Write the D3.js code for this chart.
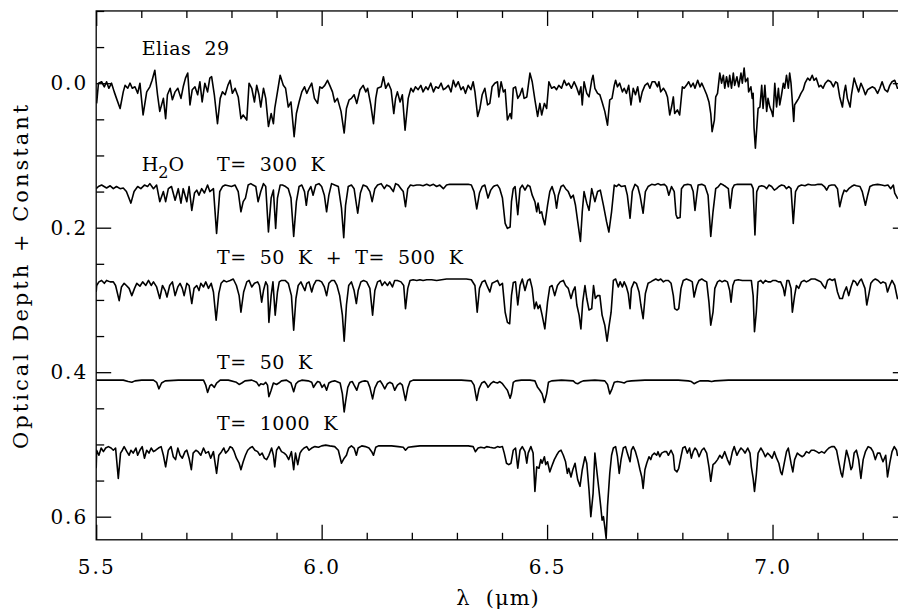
<!DOCTYPE html>
<html>
<head>
<meta charset="utf-8">
<script src="https://cdn.jsdelivr.net/npm/d3@7"></script>
<style>
  body { margin: 0; background: #fff; }
  text { font-family: "DejaVu Serif", serif; fill: #000; white-space: pre; }
</style>
</head>
<body>
<svg id="chart" width="898" height="614"></svg>
<script>
// axis values
var xMajor = [5.5, 6.0, 6.5, 7.0];
var yMajor = [0.0, 0.2, 0.4, 0.6];

// spectra: [wavelength (micron), optical depth + constant]
var elias29 = [[5.501,0.028],[5.505,0.000],[5.512,-0.002],[5.518,0.005],[5.523,-0.002],[5.528,0.007],[5.534,0.000],[5.540,0.012],[5.545,0.021],[5.553,0.035],[5.560,0.012],[5.564,0.003],[5.570,0.007],[5.575,0.000],[5.580,0.007],[5.586,0.005],[5.592,0.014],[5.597,0.000],[5.604,0.044],[5.612,0.012],[5.619,0.005],[5.624,-0.004],[5.630,-0.018],[5.636,0.016],[5.641,0.039],[5.649,0.021],[5.654,0.049],[5.658,0.016],[5.664,0.007],[5.669,0.023],[5.675,0.012],[5.681,0.007],[5.688,0.021],[5.693,0.005],[5.698,-0.007],[5.703,-0.014],[5.708,0.030],[5.713,0.009],[5.719,0.005],[5.725,0.016],[5.730,-0.002],[5.735,0.026],[5.741,0.000],[5.747,0.012],[5.752,-0.007],[5.756,-0.009],[5.762,0.016],[5.769,0.056],[5.775,0.021],[5.780,0.012],[5.786,0.016],[5.792,0.003],[5.797,-0.004],[5.802,0.014],[5.808,0.007],[5.815,0.019],[5.821,0.049],[5.826,0.044],[5.834,0.051],[5.839,0.000],[5.845,0.007],[5.851,0.026],[5.856,0.003],[5.861,0.016],[5.865,0.033],[5.871,0.007],[5.876,0.021],[5.882,0.060],[5.888,0.042],[5.893,0.056],[5.896,0.035],[5.902,0.012],[5.908,-0.011],[5.915,0.003],[5.920,0.007],[5.926,0.033],[5.932,0.026],[5.939,0.074],[5.944,0.042],[5.950,0.026],[5.956,0.012],[5.962,0.005],[5.967,0.014],[5.972,0.007],[5.978,0.000],[5.984,0.021],[5.991,0.028],[5.996,0.005],[6.001,0.007],[6.007,0.003],[6.013,-0.004],[6.018,0.003],[6.024,0.012],[6.029,0.026],[6.035,0.021],[6.043,0.039],[6.050,0.069],[6.055,0.035],[6.061,0.023],[6.066,0.021],[6.072,0.016],[6.078,0.028],[6.085,0.009],[6.092,0.003],[6.098,0.012],[6.102,0.007],[6.109,0.030],[6.115,0.056],[6.120,0.021],[6.124,0.007],[6.132,0.005],[6.137,-0.009],[6.142,0.007],[6.148,0.000],[6.154,0.009],[6.160,0.042],[6.164,0.021],[6.168,0.012],[6.174,0.026],[6.179,0.016],[6.185,0.065],[6.192,0.021],[6.198,0.007],[6.203,0.012],[6.208,0.005],[6.214,0.009],[6.220,0.003],[6.225,0.012],[6.231,0.005],[6.236,0.009],[6.242,0.000],[6.248,0.012],[6.253,0.005],[6.259,0.007],[6.265,0.000],[6.270,0.009],[6.275,0.007],[6.281,0.003],[6.287,0.012],[6.292,-0.004],[6.297,0.005],[6.303,-0.002],[6.309,0.009],[6.314,0.005],[6.319,0.014],[6.325,0.003],[6.331,0.009],[6.336,-0.002],[6.340,0.012],[6.346,0.046],[6.351,0.035],[6.356,0.016],[6.362,0.007],[6.368,0.030],[6.373,0.028],[6.378,0.005],
  [6.384,0.000],[6.390,-0.002],[6.393,0.019],[6.398,-0.002],[6.403,0.012],[6.407,0.009],[6.412,0.051],[6.418,0.042],[6.421,0.049],[6.425,0.007],[6.430,0.005],[6.435,0.021],[6.440,0.016],[6.445,0.007],[6.449,0.021],[6.455,0.019],[6.462,-0.014],[6.467,-0.002],[6.473,0.023],[6.479,0.046],[6.484,0.028],[6.488,0.044],[6.494,0.028],[6.499,0.035],[6.504,-0.002],[6.510,0.007],[6.516,0.005],[6.521,0.009],[6.526,0.003],[6.532,0.007],[6.538,-0.004],[6.543,0.003],[6.548,0.000],[6.554,0.007],[6.560,-0.002],[6.565,0.005],[6.571,0.016],[6.575,0.005],[6.578,0.030],[6.582,-0.002],[6.588,0.014],[6.593,0.019],[6.599,-0.004],[6.602,-0.011],[6.606,0.007],[6.612,0.014],[6.617,0.016],[6.622,0.026],[6.628,0.039],[6.634,0.058],[6.639,0.023],[6.644,0.021],[6.649,0.003],[6.652,-0.004],[6.656,0.005],[6.661,0.000],[6.667,0.012],[6.671,0.007],[6.676,0.014],[6.681,0.003],[6.686,0.030],[6.691,0.007],[6.696,0.016],[6.701,0.005],[6.706,0.026],[6.711,0.012],[6.717,0.003],[6.723,0.000],[6.728,0.007],[6.733,-0.002],[6.739,-0.002],[6.745,0.005],[6.748,-0.002],[6.752,0.012],[6.758,0.007],[6.763,0.012],[6.767,0.019],[6.772,0.044],[6.776,0.033],[6.780,0.019],[6.783,0.042],[6.789,0.037],[6.794,0.044],[6.800,0.005],[6.804,0.007],[6.809,0.003],[6.814,-0.002],[6.819,0.005],[6.824,0.000],[6.828,0.007],[6.834,-0.004],[6.839,0.005],[6.843,0.000],[6.848,0.007],[6.854,0.016],[6.859,0.026],[6.863,0.042],[6.866,0.067],[6.871,0.051],[6.874,0.019],[6.878,0.014],[6.883,-0.014],[6.887,0.000],[6.891,-0.011],[6.894,0.007],[6.898,-0.009],[6.902,0.005],[6.905,-0.011],[6.909,0.007],[6.913,-0.014],[6.916,0.003],[6.921,-0.009],[6.925,0.005],[6.930,-0.014],[6.933,0.000],[6.937,-0.021],[6.940,-0.002],[6.945,-0.007],[6.947,0.012],[6.952,0.005],[6.955,0.021],[6.957,0.014],[6.959,0.062],[6.962,0.090],[6.966,0.053],[6.968,0.035],[6.972,0.033],[6.976,0.003],[6.979,0.035],[6.983,0.003],[6.987,0.039],[6.990,0.021],[6.994,0.033],[6.998,0.039],[7.001,0.046],[7.005,0.000],[7.009,0.033],[7.013,0.007],[7.016,0.030],[7.020,0.016],[7.024,0.000],[7.027,0.007],[7.031,-0.011],[7.035,0.007],[7.038,-0.014],[7.041,0.000],[7.044,0.026],[7.047,0.053],[7.049,0.030],[7.053,0.026],[7.058,0.021],[7.063,0.014],[7.068,0.009],[7.072,0.000],[7.078,-0.007],[7.083,-0.004],[7.088,-0.011],[7.092,-0.004],[7.097,-0.007],[7.103,0.005],[7.107,0.003],[7.112,0.007],[7.117,0.000],[7.123,-0.004],[7.129,-0.002],[7.135,0.005],[7.140,-0.002],[7.144,0.000],[7.149,0.019],[7.155,0.033],[7.159,0.012],[7.162,0.003],[7.166,0.021],[7.172,0.033],[7.175,0.016],[7.181,-0.007],[7.186,0.003],[7.191,0.012],[7.196,0.000],[7.201,0.007],[7.206,0.016],[7.211,0.009],[7.216,0.007],[7.221,0.005],[7.227,0.007],[7.233,0.014],[7.238,0.007],[7.243,-0.002],[7.249,0.009],[7.255,0.012],[7.260,0.003],[7.265,-0.002],[7.271,-0.004],[7.275,0.003],[7.277,0.007],[7.300,0.005]];

var h2o300K = [[5.500,0.146],[5.505,0.143],[5.512,0.141],[5.523,0.145],[5.531,0.142],[5.538,0.146],[5.545,0.143],[5.553,0.146],[5.560,0.145],[5.567,0.150],[5.577,0.166],[5.584,0.150],[5.592,0.143],[5.599,0.146],[5.607,0.141],[5.614,0.143],[5.619,0.139],[5.627,0.146],[5.634,0.141],[5.641,0.164],[5.649,0.150],[5.654,0.164],[5.660,0.146],[5.667,0.143],[5.675,0.162],[5.682,0.146],[5.688,0.166],[5.693,0.146],[5.701,0.164],[5.706,0.143],[5.712,0.176],[5.718,0.152],[5.723,0.148],[5.728,0.155],[5.734,0.146],[5.740,0.152],[5.747,0.141],[5.752,0.150],[5.760,0.146],[5.767,0.208],[5.774,0.150],[5.780,0.143],[5.786,0.141],[5.793,0.142],[5.800,0.143],[5.808,0.141],[5.815,0.150],[5.821,0.178],[5.826,0.164],[5.831,0.159],[5.837,0.141],[5.843,0.139],[5.848,0.141],[5.854,0.143],[5.859,0.164],[5.865,0.150],[5.871,0.139],[5.876,0.143],[5.882,0.206],[5.888,0.159],[5.893,0.148],[5.898,0.201],[5.902,0.159],[5.908,0.141],[5.913,0.141],[5.920,0.143],[5.926,0.146],[5.932,0.159],[5.938,0.212],[5.944,0.164],[5.950,0.143],[5.956,0.141],[5.962,0.150],[5.966,0.169],[5.970,0.150],[5.976,0.143],[5.981,0.155],[5.987,0.141],[5.994,0.139],[6.000,0.143],[6.006,0.155],[6.011,0.178],[6.016,0.155],[6.022,0.139],[6.029,0.141],[6.037,0.143],[6.044,0.173],[6.049,0.214],[6.053,0.169],[6.059,0.143],[6.066,0.141],[6.072,0.146],[6.080,0.180],[6.086,0.152],[6.092,0.141],[6.100,0.143],[6.107,0.150],[6.112,0.164],[6.118,0.146],[6.124,0.141],[6.132,0.139],[6.139,0.146],[6.144,0.141],[6.151,0.143],[6.159,0.150],[6.164,0.139],[6.170,0.141],[6.176,0.146],[6.181,0.150],[6.186,0.171],[6.191,0.146],[6.197,0.141],[6.203,0.142],[6.211,0.141],[6.218,0.141],[6.225,0.142],[6.233,0.140],[6.240,0.142],[6.248,0.140],[6.255,0.143],[6.262,0.141],[6.270,0.146],[6.277,0.141],[6.284,0.140],[6.292,0.140],[6.303,0.140],[6.314,0.140],[6.325,0.140],[6.332,0.141],[6.338,0.150],[6.344,0.174],[6.350,0.152],[6.356,0.143],[6.362,0.141],[6.369,0.159],[6.375,0.148],[6.381,0.143],
  [6.384,0.142],[6.390,0.141],[6.395,0.146],[6.401,0.159],[6.407,0.194],[6.412,0.201],[6.418,0.199],[6.421,0.164],[6.425,0.146],[6.429,0.143],[6.435,0.182],[6.440,0.146],[6.445,0.141],[6.451,0.148],[6.457,0.141],[6.462,0.143],[6.467,0.155],[6.473,0.164],[6.477,0.178],[6.480,0.166],[6.484,0.180],[6.488,0.178],[6.491,0.187],[6.495,0.196],[6.501,0.169],[6.506,0.150],[6.511,0.143],[6.517,0.155],[6.521,0.173],[6.525,0.155],[6.531,0.143],[6.536,0.141],[6.541,0.146],[6.547,0.150],[6.553,0.159],[6.558,0.155],[6.563,0.169],[6.568,0.192],[6.574,0.219],[6.578,0.178],[6.582,0.150],[6.588,0.166],[6.593,0.176],[6.599,0.146],[6.606,0.164],[6.612,0.150],[6.618,0.148],[6.625,0.169],[6.632,0.192],[6.637,0.206],[6.643,0.178],[6.649,0.141],[6.654,0.143],[6.659,0.140],[6.665,0.143],[6.673,0.142],[6.678,0.155],[6.684,0.187],[6.689,0.150],[6.695,0.140],[6.701,0.143],[6.706,0.155],[6.713,0.180],[6.718,0.150],[6.724,0.143],[6.732,0.140],[6.739,0.141],[6.746,0.139],[6.752,0.141],[6.760,0.140],[6.765,0.143],[6.770,0.155],[6.776,0.143],[6.782,0.150],[6.786,0.182],[6.789,0.187],[6.795,0.186],[6.798,0.146],[6.804,0.141],[6.812,0.140],[6.819,0.141],[6.824,0.150],[6.828,0.176],[6.832,0.155],[6.835,0.141],[6.843,0.140],[6.850,0.142],[6.857,0.155],[6.863,0.212],[6.868,0.178],[6.874,0.146],[6.880,0.143],[6.885,0.139],[6.891,0.141],[6.896,0.143],[6.902,0.146],[6.906,0.173],[6.911,0.146],[6.915,0.141],[6.922,0.140],[6.931,0.140],[6.942,0.140],[6.953,0.140],[6.957,0.146],[6.961,0.210],[6.965,0.150],[6.970,0.143],[6.976,0.142],[6.982,0.143],[6.987,0.146],[6.992,0.141],[6.998,0.143],[7.004,0.148],[7.009,0.146],[7.014,0.143],[7.020,0.141],[7.026,0.142],[7.031,0.146],[7.036,0.143],[7.041,0.146],[7.046,0.194],[7.051,0.150],[7.057,0.143],[7.064,0.141],[7.072,0.142],[7.079,0.140],[7.086,0.141],[7.094,0.141],[7.101,0.140],[7.109,0.140],[7.115,0.143],[7.120,0.148],[7.125,0.142],[7.131,0.141],[7.138,0.141],[7.144,0.146],[7.149,0.171],[7.155,0.155],[7.159,0.148],[7.164,0.150],[7.169,0.146],[7.175,0.143],[7.181,0.141],[7.186,0.142],[7.194,0.143],[7.199,0.150],[7.206,0.169],[7.211,0.155],[7.216,0.143],[7.223,0.141],[7.233,0.140],[7.242,0.141],[7.249,0.142],[7.256,0.141],[7.262,0.146],[7.268,0.141],[7.271,0.152],[7.277,0.159],[7.300,0.165]];

var h2o50K500K = [[5.500,0.289],[5.501,0.280],[5.506,0.275],[5.512,0.273],[5.518,0.277],[5.523,0.273],[5.531,0.275],[5.538,0.275],[5.543,0.280],[5.551,0.301],[5.556,0.282],[5.562,0.277],[5.567,0.280],[5.573,0.284],[5.579,0.294],[5.585,0.284],[5.590,0.277],[5.597,0.281],[5.603,0.275],[5.610,0.280],[5.616,0.273],[5.622,0.280],[5.627,0.275],[5.634,0.282],[5.641,0.298],[5.647,0.280],[5.653,0.287],[5.657,0.296],[5.663,0.280],[5.669,0.275],[5.675,0.294],[5.681,0.282],[5.686,0.277],[5.691,0.284],[5.695,0.294],[5.701,0.277],[5.706,0.280],[5.712,0.305],[5.717,0.284],[5.723,0.280],[5.728,0.287],[5.732,0.277],[5.738,0.282],[5.743,0.275],[5.749,0.284],[5.755,0.277],[5.760,0.289],[5.766,0.328],[5.772,0.291],[5.777,0.277],[5.783,0.273],[5.789,0.275],[5.797,0.273],[5.804,0.271],[5.811,0.280],[5.817,0.294],[5.821,0.317],[5.827,0.289],[5.834,0.275],[5.839,0.273],[5.845,0.282],[5.851,0.277],[5.858,0.275],[5.862,0.280],[5.867,0.303],[5.871,0.287],[5.876,0.275],[5.880,0.280],[5.883,0.331],[5.888,0.294],[5.892,0.275],[5.897,0.321],[5.902,0.289],[5.906,0.275],[5.911,0.273],[5.919,0.273],[5.926,0.277],[5.933,0.294],[5.938,0.342],[5.943,0.298],[5.948,0.280],[5.954,0.275],[5.959,0.282],[5.963,0.287],[5.967,0.277],[5.972,0.275],[5.978,0.289],[5.982,0.280],[5.988,0.273],[5.994,0.273],[6.000,0.275],[6.006,0.282],[6.011,0.294],[6.016,0.277],[6.022,0.273],[6.028,0.273],[6.034,0.280],[6.040,0.294],[6.046,0.321],[6.050,0.357],[6.055,0.307],[6.060,0.280],[6.066,0.275],[6.072,0.287],[6.077,0.305],[6.081,0.287],[6.087,0.275],[6.093,0.273],[6.100,0.275],[6.107,0.284],[6.113,0.321],[6.118,0.287],[6.124,0.275],[6.130,0.273],[6.134,0.280],[6.140,0.275],[6.146,0.280],[6.151,0.275],[6.157,0.282],[6.162,0.273],[6.168,0.273],[6.176,0.275],[6.182,0.280],[6.186,0.312],[6.191,0.284],[6.196,0.273],[6.203,0.272],[6.211,0.273],[6.218,0.272],[6.225,0.273],[6.233,0.272],[6.244,0.272],[6.255,0.273],[6.266,0.272],[6.277,0.271],[6.288,0.271],[6.299,0.271],[6.310,0.271],[6.321,0.271],[6.332,0.272],[6.340,0.280],[6.345,0.317],[6.350,0.284],[6.356,0.275],[6.362,0.273],[6.368,0.282],[6.373,0.289],[6.378,0.277],
  [6.384,0.275],[6.390,0.273],[6.395,0.280],[6.401,0.277],[6.407,0.317],[6.412,0.331],[6.417,0.333],[6.421,0.294],[6.425,0.276],[6.430,0.275],[6.435,0.307],[6.440,0.280],[6.445,0.271],[6.451,0.287],[6.457,0.273],[6.462,0.271],[6.467,0.284],[6.472,0.312],[6.476,0.303],[6.480,0.312],[6.484,0.307],[6.489,0.321],[6.495,0.340],[6.501,0.303],[6.506,0.282],[6.511,0.280],[6.517,0.294],[6.523,0.280],[6.529,0.275],[6.536,0.273],[6.541,0.280],[6.547,0.284],[6.553,0.298],[6.558,0.287],[6.562,0.282],[6.566,0.307],[6.571,0.321],[6.575,0.340],[6.579,0.303],[6.584,0.280],[6.588,0.298],[6.593,0.314],[6.599,0.312],[6.603,0.280],[6.607,0.298],[6.612,0.294],[6.617,0.294],[6.622,0.321],[6.628,0.335],[6.633,0.357],[6.637,0.338],[6.642,0.317],[6.647,0.273],[6.652,0.271],[6.658,0.282],[6.662,0.275],[6.667,0.282],[6.671,0.275],[6.676,0.282],[6.680,0.291],[6.684,0.312],[6.687,0.284],[6.693,0.275],[6.698,0.277],[6.704,0.289],[6.708,0.307],[6.713,0.326],[6.718,0.291],[6.724,0.277],[6.730,0.275],[6.735,0.273],[6.741,0.271],[6.747,0.273],[6.752,0.271],[6.758,0.275],[6.763,0.273],[6.769,0.273],[6.775,0.277],[6.780,0.294],[6.783,0.312],[6.788,0.314],[6.792,0.312],[6.797,0.284],[6.802,0.273],[6.809,0.271],[6.817,0.273],[6.822,0.275],[6.826,0.296],[6.832,0.280],[6.837,0.273],[6.843,0.271],[6.848,0.273],[6.854,0.275],[6.859,0.303],[6.863,0.335],[6.868,0.317],[6.872,0.284],[6.878,0.275],[6.883,0.273],[6.888,0.275],[6.894,0.273],[6.900,0.275],[6.905,0.287],[6.908,0.303],[6.912,0.280],[6.916,0.273],[6.924,0.272],[6.933,0.273],[6.940,0.273],[6.948,0.273],[6.953,0.273],[6.957,0.294],[6.960,0.344],[6.964,0.317],[6.968,0.275],[6.974,0.273],[6.979,0.277],[6.984,0.273],[6.990,0.275],[6.996,0.275],[7.001,0.273],[7.007,0.273],[7.013,0.275],[7.018,0.275],[7.024,0.284],[7.027,0.294],[7.032,0.273],[7.036,0.273],[7.041,0.284],[7.044,0.317],[7.049,0.294],[7.053,0.280],[7.058,0.284],[7.064,0.275],[7.070,0.273],[7.075,0.275],[7.081,0.273],[7.086,0.271],[7.094,0.271],[7.101,0.273],[7.107,0.275],[7.112,0.280],[7.117,0.284],[7.122,0.273],[7.127,0.271],[7.132,0.273],[7.138,0.271],[7.144,0.289],[7.149,0.298],[7.155,0.298],[7.159,0.289],[7.164,0.282],[7.169,0.294],[7.174,0.282],[7.179,0.273],[7.184,0.275],[7.188,0.280],[7.194,0.273],[7.197,0.271],[7.205,0.284],[7.209,0.307],[7.214,0.291],[7.218,0.277],[7.223,0.273],[7.228,0.271],[7.234,0.273],[7.240,0.277],[7.245,0.275],[7.251,0.277],[7.255,0.289],[7.260,0.280],[7.265,0.273],[7.271,0.280],[7.277,0.298],[7.300,0.300]];

var h2o50K = [[5.500,0.411],[5.530,0.411],[5.560,0.411],[5.571,0.413],[5.579,0.414],[5.586,0.412],[5.601,0.411],[5.627,0.411],[5.634,0.414],[5.639,0.423],[5.645,0.415],[5.653,0.412],[5.682,0.411],[5.712,0.411],[5.738,0.411],[5.743,0.418],[5.747,0.428],[5.752,0.419],[5.756,0.417],[5.762,0.421],[5.767,0.415],[5.775,0.411],[5.793,0.411],[5.811,0.414],[5.817,0.417],[5.823,0.415],[5.830,0.412],[5.845,0.411],[5.856,0.414],[5.861,0.419],[5.865,0.416],[5.871,0.417],[5.876,0.414],[5.880,0.418],[5.883,0.434],[5.888,0.425],[5.893,0.415],[5.900,0.417],[5.905,0.415],[5.911,0.412],[5.922,0.411],[5.932,0.415],[5.938,0.427],[5.943,0.416],[5.948,0.413],[5.956,0.411],[5.970,0.412],[5.978,0.414],[5.982,0.421],[5.987,0.416],[5.991,0.413],[5.996,0.414],[6.001,0.421],[6.006,0.417],[6.011,0.425],[6.016,0.415],[6.022,0.413],[6.029,0.412],[6.041,0.415],[6.046,0.430],[6.050,0.455],[6.053,0.441],[6.058,0.421],[6.063,0.414],[6.068,0.413],[6.072,0.418],[6.078,0.425],[6.083,0.415],[6.089,0.413],[6.096,0.412],[6.102,0.413],[6.107,0.421],[6.113,0.437],[6.118,0.422],[6.124,0.414],[6.130,0.412],[6.134,0.416],[6.140,0.423],[6.146,0.416],[6.151,0.414],[6.157,0.416],[6.162,0.425],[6.168,0.418],[6.174,0.415],[6.179,0.418],[6.183,0.430],[6.186,0.439],[6.191,0.422],[6.196,0.413],[6.203,0.411],[6.236,0.411],[6.273,0.411],[6.310,0.411],[6.332,0.412],[6.338,0.418],[6.344,0.439],[6.349,0.423],[6.355,0.415],[6.361,0.413],[6.366,0.417],[6.369,0.421],[6.375,0.416],[6.381,0.413],
  [6.384,0.414],[6.390,0.415],[6.395,0.413],[6.401,0.416],[6.407,0.421],[6.412,0.425],[6.418,0.436],[6.421,0.430],[6.425,0.414],[6.430,0.412],[6.443,0.411],[6.462,0.411],[6.473,0.412],[6.479,0.421],[6.484,0.425],[6.489,0.430],[6.494,0.442],[6.499,0.430],[6.503,0.414],[6.510,0.412],[6.532,0.411],[6.558,0.412],[6.563,0.415],[6.568,0.416],[6.573,0.414],[6.580,0.412],[6.606,0.411],[6.628,0.412],[6.634,0.417],[6.639,0.430],[6.644,0.423],[6.649,0.414],[6.656,0.413],[6.665,0.414],[6.671,0.415],[6.676,0.413],[6.687,0.412],[6.717,0.411],[6.754,0.411],[6.791,0.411],[6.813,0.412],[6.820,0.413],[6.826,0.416],[6.832,0.414],[6.839,0.412],[6.857,0.412],[6.865,0.413],[6.872,0.412],[6.902,0.411],[6.976,0.411],[7.049,0.411],[7.123,0.411],[7.197,0.411],[7.300,0.411]];

var h2o1000K = [[5.500,0.533],[5.501,0.508],[5.506,0.515],[5.511,0.505],[5.516,0.510],[5.521,0.505],[5.527,0.503],[5.533,0.505],[5.538,0.508],[5.543,0.505],[5.549,0.547],[5.554,0.512],[5.558,0.508],[5.562,0.503],[5.568,0.510],[5.573,0.515],[5.577,0.508],[5.582,0.512],[5.588,0.505],[5.592,0.515],[5.597,0.508],[5.602,0.503],[5.607,0.519],[5.612,0.508],[5.617,0.512],[5.622,0.505],[5.627,0.510],[5.632,0.508],[5.638,0.505],[5.644,0.503],[5.649,0.515],[5.654,0.531],[5.660,0.508],[5.666,0.503],[5.671,0.517],[5.676,0.521],[5.681,0.505],[5.686,0.515],[5.691,0.519],[5.697,0.510],[5.701,0.508],[5.706,0.519],[5.711,0.535],[5.715,0.512],[5.721,0.508],[5.726,0.510],[5.732,0.515],[5.738,0.505],[5.743,0.512],[5.749,0.510],[5.754,0.519],[5.760,0.510],[5.767,0.540],[5.772,0.515],[5.778,0.510],[5.783,0.505],[5.787,0.512],[5.793,0.508],[5.797,0.503],[5.802,0.505],[5.806,0.510],[5.811,0.519],[5.817,0.526],[5.821,0.535],[5.826,0.524],[5.831,0.515],[5.836,0.508],[5.841,0.505],[5.846,0.503],[5.852,0.508],[5.858,0.510],[5.863,0.515],[5.868,0.512],[5.873,0.519],[5.878,0.521],[5.883,0.515],[5.889,0.505],[5.893,0.515],[5.896,0.531],[5.900,0.508],[5.905,0.503],[5.911,0.510],[5.917,0.512],[5.922,0.515],[5.927,0.521],[5.933,0.510],[5.938,0.535],[5.942,0.512],[5.947,0.528],[5.952,0.512],[5.956,0.508],[5.961,0.505],[5.967,0.503],[5.972,0.508],[5.978,0.505],[5.985,0.503],[5.993,0.504],[6.000,0.502],[6.009,0.501],[6.018,0.502],[6.029,0.503],[6.037,0.508],[6.044,0.526],[6.050,0.519],[6.055,0.515],[6.060,0.505],[6.066,0.502],[6.072,0.505],[6.077,0.515],[6.081,0.505],[6.089,0.502],[6.097,0.503],[6.105,0.505],[6.111,0.510],[6.115,0.515],[6.120,0.504],[6.126,0.502],[6.140,0.502],[6.155,0.502],[6.170,0.503],[6.181,0.504],[6.186,0.508],[6.192,0.504],[6.203,0.503],[6.218,0.502],[6.236,0.502],[6.259,0.502],[6.281,0.502],[6.303,0.502],[6.325,0.502],[6.336,0.503],[6.341,0.510],[6.347,0.505],[6.353,0.504],[6.361,0.505],[6.366,0.503],[6.373,0.504],[6.381,0.505],
  [6.384,0.505],[6.390,0.503],[6.395,0.504],[6.401,0.503],[6.405,0.512],[6.410,0.526],[6.415,0.528],[6.420,0.526],[6.425,0.508],[6.430,0.505],[6.435,0.533],[6.440,0.508],[6.445,0.503],[6.451,0.510],[6.455,0.526],[6.458,0.512],[6.464,0.503],[6.469,0.512],[6.473,0.565],[6.477,0.531],[6.482,0.533],[6.486,0.521],[6.489,0.526],[6.494,0.517],[6.497,0.528],[6.501,0.524],[6.506,0.538],[6.510,0.531],[6.516,0.521],[6.521,0.515],[6.526,0.510],[6.531,0.508],[6.536,0.515],[6.541,0.524],[6.545,0.540],[6.548,0.533],[6.553,0.545],[6.557,0.535],[6.562,0.526],[6.565,0.538],[6.568,0.549],[6.573,0.558],[6.578,0.535],[6.584,0.517],[6.588,0.526],[6.593,0.563],[6.597,0.600],[6.602,0.568],[6.606,0.512],[6.610,0.535],[6.615,0.563],[6.619,0.586],[6.622,0.605],[6.625,0.600],[6.628,0.614],[6.631,0.630],[6.634,0.586],[6.639,0.540],[6.643,0.515],[6.647,0.505],[6.652,0.503],[6.656,0.517],[6.660,0.540],[6.664,0.521],[6.669,0.505],[6.674,0.503],[6.678,0.512],[6.684,0.524],[6.687,0.508],[6.691,0.503],[6.696,0.510],[6.701,0.521],[6.706,0.535],[6.710,0.545],[6.713,0.561],[6.717,0.535],[6.721,0.526],[6.726,0.517],[6.730,0.521],[6.733,0.515],[6.738,0.512],[6.743,0.515],[6.746,0.510],[6.750,0.517],[6.754,0.512],[6.760,0.510],[6.765,0.510],[6.769,0.515],[6.775,0.508],[6.780,0.515],[6.783,0.535],[6.788,0.538],[6.792,0.533],[6.797,0.517],[6.801,0.505],[6.806,0.503],[6.811,0.512],[6.816,0.505],[6.820,0.519],[6.824,0.510],[6.828,0.505],[6.832,0.508],[6.837,0.517],[6.843,0.508],[6.848,0.505],[6.854,0.512],[6.859,0.531],[6.863,0.551],[6.868,0.528],[6.872,0.526],[6.878,0.521],[6.883,0.515],[6.888,0.519],[6.894,0.510],[6.900,0.521],[6.905,0.528],[6.911,0.510],[6.915,0.503],[6.921,0.515],[6.925,0.510],[6.930,0.505],[6.935,0.508],[6.939,0.512],[6.945,0.505],[6.950,0.512],[6.953,0.531],[6.957,0.547],[6.960,0.565],[6.964,0.542],[6.968,0.512],[6.974,0.505],[6.979,0.510],[6.984,0.517],[6.989,0.512],[6.994,0.515],[6.999,0.519],[7.004,0.510],[7.009,0.519],[7.014,0.526],[7.018,0.538],[7.021,0.542],[7.026,0.526],[7.031,0.510],[7.035,0.505],[7.041,0.526],[7.045,0.538],[7.049,0.521],[7.055,0.512],[7.061,0.515],[7.066,0.517],[7.070,0.515],[7.075,0.510],[7.081,0.512],[7.086,0.508],[7.092,0.508],[7.098,0.510],[7.103,0.512],[7.109,0.510],[7.115,0.512],[7.120,0.508],[7.125,0.505],[7.131,0.503],[7.137,0.503],[7.142,0.508],[7.146,0.521],[7.152,0.540],[7.155,0.545],[7.159,0.528],[7.164,0.508],[7.169,0.519],[7.174,0.535],[7.177,0.531],[7.181,0.512],[7.186,0.508],[7.191,0.521],[7.196,0.547],[7.201,0.521],[7.206,0.510],[7.212,0.503],[7.218,0.505],[7.223,0.510],[7.228,0.521],[7.233,0.512],[7.238,0.512],[7.242,0.519],[7.245,0.524],[7.251,0.515],[7.255,0.545],[7.260,0.526],[7.265,0.510],[7.270,0.503],[7.275,0.508],[7.277,0.515],[7.300,0.520]];

var spectra = [elias29, h2o300K, h2o50K500K, h2o50K, h2o1000K];

// annotations, anchored in data coordinates
var notes = [
  {text: "Elias  29", lam: 5.601, tau: -0.039},
  {text: "T=  300  K", lam: 5.768, tau: 0.122},
  {text: "T=  50  K  +  T=  500  K", lam: 5.768, tau: 0.250},
  {text: "T=  50  K", lam: 5.768, tau: 0.395},
  {text: "T=  1000  K", lam: 5.768, tau: 0.480}
];

var svg = d3.select("#chart");
var W = 898, H = 614;

var x = d3.scaleLinear().domain([5.5, 7.3]).range([96.2, 907.8]);
var y = d3.scaleLinear().domain([-0.1, 0.632]).range([10.95, 539.8]);

var plotL = x.range()[0], plotR = x.range()[1];
var plotT = y.range()[0], plotB = y.range()[1];

svg.append("rect").attr("width", W).attr("height", H).attr("fill", "#fff");

svg.append("defs").append("clipPath").attr("id", "plotclip")
  .append("rect")
  .attr("x", plotL).attr("y", plotT)
  .attr("width", plotR - plotL).attr("height", plotB - plotT);

// spectra
var line = d3.line()
  .x(function (d) { return x(d[0]); })
  .y(function (d) { return y(d[1]); });

svg.append("g").attr("clip-path", "url(#plotclip)")
  .selectAll("path").data(spectra)
  .enter().append("path")
    .attr("d", line)
    .attr("fill", "none")
    .attr("stroke", "#000")
    .attr("stroke-width", 1.6)
    .attr("stroke-linejoin", "round");

// ticks (pointing inwards like the original)
var xMinor = x.ticks(18).filter(function (v) { return xMajor.indexOf(+v.toFixed(1)) < 0; });
var yMinor = d3.range(-0.1, 0.63, 0.05).map(function (v) { return +v.toFixed(2); })
  .filter(function (v) { return yMajor.indexOf(v) < 0; });
var fmt = d3.format(".1f");

function tidy(g) {
  g.select(".domain").remove();
  g.selectAll("line").attr("stroke", "#000").attr("stroke-width", 1.3);
  g.selectAll("text")
    .style("font-family", "DejaVu Serif, serif")
    .style("font-size", "20px")
    .style("letter-spacing", "2px")
    .attr("fill", "#000");
}

svg.append("g").attr("transform", "translate(0," + plotB + ")")
  .call(d3.axisBottom(x).tickValues(xMajor).tickSize(-15).tickPadding(20).tickFormat(fmt)).call(tidy);
svg.append("g").attr("transform", "translate(0," + plotB + ")")
  .call(d3.axisBottom(x).tickValues(xMinor).tickSize(-7).tickFormat("")).call(tidy);
svg.append("g").attr("transform", "translate(0," + plotT + ")")
  .call(d3.axisTop(x).tickValues(xMajor).tickSize(-15).tickFormat("")).call(tidy);
svg.append("g").attr("transform", "translate(0," + plotT + ")")
  .call(d3.axisTop(x).tickValues(xMinor).tickSize(-7).tickFormat("")).call(tidy);

svg.append("g").attr("transform", "translate(" + plotL + ",0)")
  .call(d3.axisLeft(y).tickValues(yMajor).tickSize(-15).tickPadding(8).tickFormat(fmt)).call(tidy);
svg.append("g").attr("transform", "translate(" + plotL + ",0)")
  .call(d3.axisLeft(y).tickValues(yMinor).tickSize(-8).tickFormat("")).call(tidy);
svg.append("g").attr("transform", "translate(" + plotR + ",0)")
  .call(d3.axisRight(y).tickValues(yMajor).tickSize(-15).tickFormat("")).call(tidy);
svg.append("g").attr("transform", "translate(" + plotR + ",0)")
  .call(d3.axisRight(y).tickValues(yMinor).tickSize(-8).tickFormat("")).call(tidy);

// frame
svg.append("rect")
  .attr("x", plotL).attr("y", plotT)
  .attr("width", plotR - plotL).attr("height", plotB - plotT)
  .attr("fill", "none").attr("stroke", "#000").attr("stroke-width", 1.3);

// axis titles
svg.append("text")
  .attr("x", (plotL + plotR) / 2 - 4).attr("y", 605)
  .attr("text-anchor", "middle")
  .style("font-size", "21px").style("letter-spacing", "1px")
  .text("\u03bb  (\u03bcm)");

svg.append("text")
  .attr("transform", "translate(28," + ((plotT + plotB) / 2) + ") rotate(-90)")
  .attr("text-anchor", "middle")
  .style("font-size", "21px").style("letter-spacing", "3px")
  .text("Optical Depth + Constant");

// labels on the spectra
svg.selectAll("text.note").data(notes)
  .enter().append("text")
    .attr("class", "note")
    .attr("x", function (d) { return x(d.lam); })
    .attr("y", function (d) { return y(d.tau); })
    .style("font-size", "19px")
    .style("letter-spacing", "0.5px")
    .text(function (d) { return d.text; });

// H2O with subscript
var h2o = svg.append("text")
  .attr("x", x(5.601)).attr("y", y(0.122))
  .style("font-size", "19px");
h2o.append("tspan").text("H");
h2o.append("tspan").attr("dy", 7).style("font-size", "16px").text("2");
h2o.append("tspan").attr("dy", -7).text("O");
</script>
</body>
</html>
